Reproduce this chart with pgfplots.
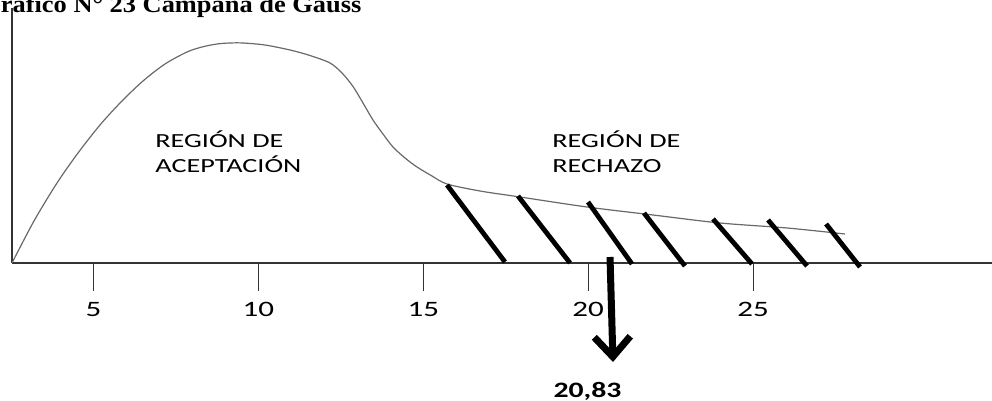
\documentclass[border=0pt]{standalone}
\usepackage{fontspec}
\setmainfont{Carlito}
\newfontfamily\titlefont{Liberation Serif}
\usepackage{graphicx}
\usepackage{pgfplots}
\pgfplotsset{compat=1.18}
\usetikzlibrary{arrows.meta}

% the reference is stretched sideways, so the text is too
\newcommand{\sx}[1]{\scalebox{1.41}[1]{#1}}

\begin{document}
\begin{tikzpicture}
\node[anchor=base west, inner sep=0pt] at (-10pt,194pt)
  {\titlefont\bfseries\fontsize{12}{14}\selectfont\scalebox{1.1}[1]{Gráfico N° 23 Campana de Gauss}};
\begin{axis}[
    at={(6pt,69pt)}, anchor=south west,
    x=16.485pt, y=0.5pt,
    xmin=2.525, xmax=32.25,
    ymin=0, ymax=255,
    axis lines=left,
    axis line style={-, line width=0.6pt, black!80},
    xtick={5,10,15,20,25},
    xticklabels={\sx{5},\sx{10},\sx{15},\sx{20},\sx{25}},
    ytick=\empty,
    tick align=outside,
    major tick length=14pt,
    xtick style={black!80, line width=0.5pt},
    xticklabel style={font=\fontsize{11}{13}\selectfont, yshift=-2pt},
    clip=false,
]
% curve
\addplot[smooth, tension=0.5, line width=0.6pt, color={rgb,255:red,105;green,105;blue,105}] coordinates {
  (2.525,0) (3.192,42) (3.890,80) (4.527,110) (5.194,138) (5.831,161)
  (6.498,182) (7.166,199) (7.833,211) (8.288,216) (8.743,219) (9.137,220)
  (9.531,220) (10.199,218) (10.957,213) (11.563,207.5) (12.170,200)
  (12.534,190) (12.868,176.5) (13.171,160) (13.474,143) (13.777,129)
  (14.081,116) (14.445,105) (14.809,96) (15.264,87) (15.719,79)
  (16.720,72) (17.933,66) (19.966,56) (21.968,48) (23.999,40)
  (26.032,35) (27.791,29)
};
% hatch marks of the rejection region
\addplot[black, line width=2.4pt] coordinates {(15.719,78) (17.478,1)};
\addplot[black, line width=2.4pt] coordinates {(17.872,67) (19.450,0)};
\addplot[black, line width=2.4pt] coordinates {(19.995,61) (21.330,-1)};
\addplot[black, line width=2.4pt] coordinates {(21.693,50) (22.937,-3)};
\addplot[black, line width=2.4pt] coordinates {(23.787,44) (24.970,-1)};
\addplot[black, line width=2.4pt] coordinates {(25.456,43) (26.639,-3)};
\addplot[black, line width=2.4pt] coordinates {(27.216,39) (28.247,-4)};
% critical value arrow
\addplot[black, line width=3.5pt, -{Straight Barb[length=10pt, width=18pt]}]
  coordinates {(20.663,6) (20.754,-99)};

\node[anchor=base west, inner sep=0pt] at (axis cs:6.862,115) {\sx{REGIÓN DE}};
\node[anchor=base west, inner sep=0pt] at (axis cs:6.862,90) {\sx{ACEPTACIÓN}};
\node[anchor=base west, inner sep=0pt] at (axis cs:18.904,115) {\sx{REGIÓN DE}};
\node[anchor=base west, inner sep=0pt] at (axis cs:18.904,90) {\sx{RECHAZO}};
\node[anchor=base, inner sep=0pt] at (axis cs:19.980,-135)
  {\bfseries\fontsize{11}{13}\selectfont\scalebox{1.35}[1]{20,83}};
\end{axis}
\pgfresetboundingbox
\useasboundingbox (0,0) rectangle (496pt,200.5pt);
\end{tikzpicture}
\end{document}
